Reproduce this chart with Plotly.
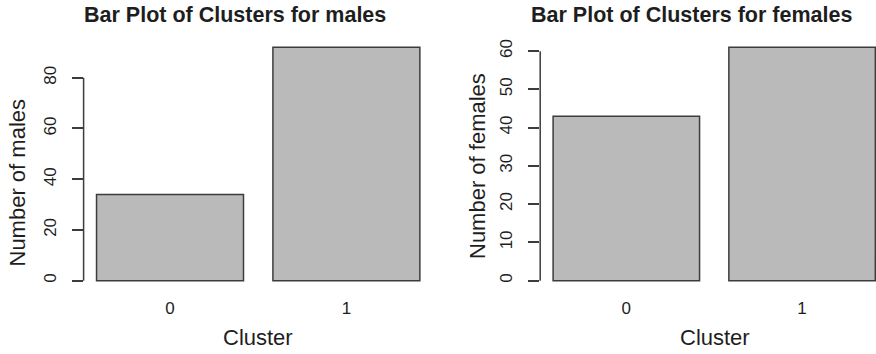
import plotly.graph_objects as go

# Cluster counts by sex
clusters = ["0", "1"]
males = [34, 92]
females = [43, 61]

male_ticks = [0, 20, 40, 60, 80]
female_ticks = [0, 10, 20, 30, 40, 50, 60]

W, H = 876, 354
FONT = "Liberation Sans"
TEXT = "#1e1e1e"
LINE = "#3c3c3c"
FILL = "#bababa"

# bar width relative to category spacing (width 1, space 0.2)
bar_w = 1 / 1.2


def px(x):
    return x / W


def py(y):
    return 1 - y / H


def yrange(vals):
    top = max(vals)
    pad = 0.04 * top
    return [-pad, top + pad]


fig = go.Figure()
fig.add_trace(go.Bar(x=clusters, y=males, width=bar_w, xaxis="x", yaxis="y",
                     marker=dict(color=FILL, line=dict(color=LINE, width=1.5))))
fig.add_trace(go.Bar(x=clusters, y=females, width=bar_w, xaxis="x2", yaxis="y2",
                     marker=dict(color=FILL, line=dict(color=LINE, width=1.5))))

ydom = [py(290), py(38)]
xdom1 = [px(83.6), px(432.8)]
xdom2 = [px(540.2), 1.0]

xcommon = dict(type="category", showgrid=False, zeroline=False, showline=False,
               ticks="", ticklabelstandoff=6,
               tickfont=dict(family=FONT, size=17, color=TEXT))
ycommon = dict(showgrid=False, zeroline=False, showline=False, ticks="outside",
               ticklen=11, tickwidth=1.5, tickcolor=LINE, tickangle=-90,
               ticklabelstandoff=9,
               tickfont=dict(family=FONT, size=17, color=TEXT))

fig.update_layout(
    width=W, height=H,
    margin=dict(l=0, r=0, t=0, b=0),
    paper_bgcolor="white", plot_bgcolor="white",
    showlegend=False,
    xaxis=dict(domain=xdom1, range=[-0.49, 1.49], anchor="y", **xcommon),
    yaxis=dict(domain=ydom, range=yrange(males), tickvals=male_ticks,
               anchor="x", **ycommon),
    xaxis2=dict(domain=xdom2, range=[-0.49, (876 - 626) / 176], anchor="y2", **xcommon),
    yaxis2=dict(domain=ydom, range=yrange(females), tickvals=female_ticks,
                anchor="x2", **ycommon),
)

# y axis lines spanning only the labelled tick range
fig.add_shape(type="line", xref="paper", yref="y", x0=xdom1[0], x1=xdom1[0],
              y0=male_ticks[0], y1=male_ticks[-1], line=dict(color=LINE, width=1.5))
fig.add_shape(type="line", xref="paper", yref="y2", x0=xdom2[0], x1=xdom2[0],
              y0=female_ticks[0], y1=female_ticks[-1], line=dict(color=LINE, width=1.5))

title_font = dict(family=FONT, size=21.5, color=TEXT, weight="bold")
lab_font = dict(family=FONT, size=22, color=TEXT)

annots = [
    dict(text="Bar Plot of Clusters for males", x=px(235), y=py(15.5), font=title_font),
    dict(text="Bar Plot of Clusters for females", x=px(691.5), y=py(15.5), font=title_font),
    dict(text="Cluster", x=px(258), y=py(337), font=lab_font),
    dict(text="Cluster", x=px(715), y=py(337), font=lab_font),
    dict(text="Number of males", x=px(17), y=py(182.5), font=lab_font, textangle=-90),
    dict(text="Number of females", x=px(477), y=py(166), font=lab_font, textangle=-90),
]
for a in annots:
    fig.add_annotation(xref="paper", yref="paper", showarrow=False,
                       xanchor="center", yanchor="middle", **a)

fig.write_html("out.html")
